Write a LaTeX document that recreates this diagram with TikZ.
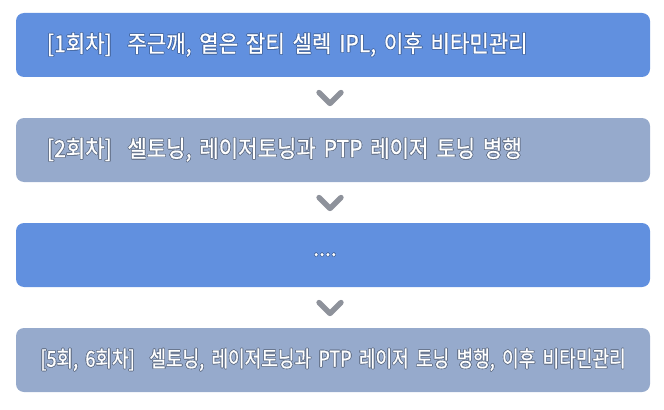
\documentclass[tikz,border=0pt]{standalone}
\usepackage{fontspec}
\setmainfont[FakeStretch=0.905,FakeBold=0.5]{Noto Sans CJK KR}
\newfontfamily\narrowfont[FakeStretch=0.82,FakeBold=0.5]{Noto Sans CJK KR}
\usepackage[copies]{contour}
\contournumber{16}
\contourlength{0.5pt}
\usetikzlibrary{calc}
\definecolor{stepblue}{RGB}{97,144,223}
\definecolor{stepgrey}{RGB}{150,170,204}
\definecolor{chevgrey}{RGB}{142,146,155}
\begin{document}
\begin{tikzpicture}[x=0.75pt,y=-0.75pt,
  stepbox/.style={rounded corners=6pt,text=white,minimum height=48pt,
    text width=429pt,inner xsep=23.25pt,inner ysep=0pt,align=left,
    font=\fontsize{17.5}{20}\selectfont},
  midbox/.style={stepbox,text width=465pt,inner xsep=5.25pt,align=center},
  chev/.style={chevgrey,line width=4pt,line cap=round,line join=round}]
\useasboundingbox (0,0) rectangle (664,410);

\node[stepbox,fill=stepblue] (r1) at (333,45) {\contour{stepblue!75!black}{[1회차]\ \ 주근깨, 옅은 잡티 셀렉 IPL, 이후 비타민관리}};
\node[stepbox,fill=stepgrey] (r2) at (333,150) {\contour{stepgrey!70!black}{[2회차]\ \ 셀토닝, 레이저토닝과 PTP 레이저 토닝 병행}};
\node[midbox,fill=stepblue] (r3) at (333,255) {\contour{stepblue!75!black}{....}\hspace*{12pt}};
\node[midbox,fill=stepgrey,font=\narrowfont\fontsize{16.5}{20}\selectfont] (r4) at (333,360) {\contour{stepgrey!70!black}{[5회, 6회차]\ \ 셀토닝, 레이저토닝과 PTP 레이저 토닝 병행, 이후 비타민관리}};

% chevrons between the steps
\draw[chev] ($(r1.south)!0.5!(r2.north)+(-14,-5)$) -- ++(11,11) -- ++(11,-11);
\draw[chev] ($(r2.south)!0.5!(r3.north)+(-14,-5)$) -- ++(11,11) -- ++(11,-11);
\draw[chev] ($(r3.south)!0.5!(r4.north)+(-14,-5)$) -- ++(11,11) -- ++(11,-11);

\end{tikzpicture}
\end{document}
